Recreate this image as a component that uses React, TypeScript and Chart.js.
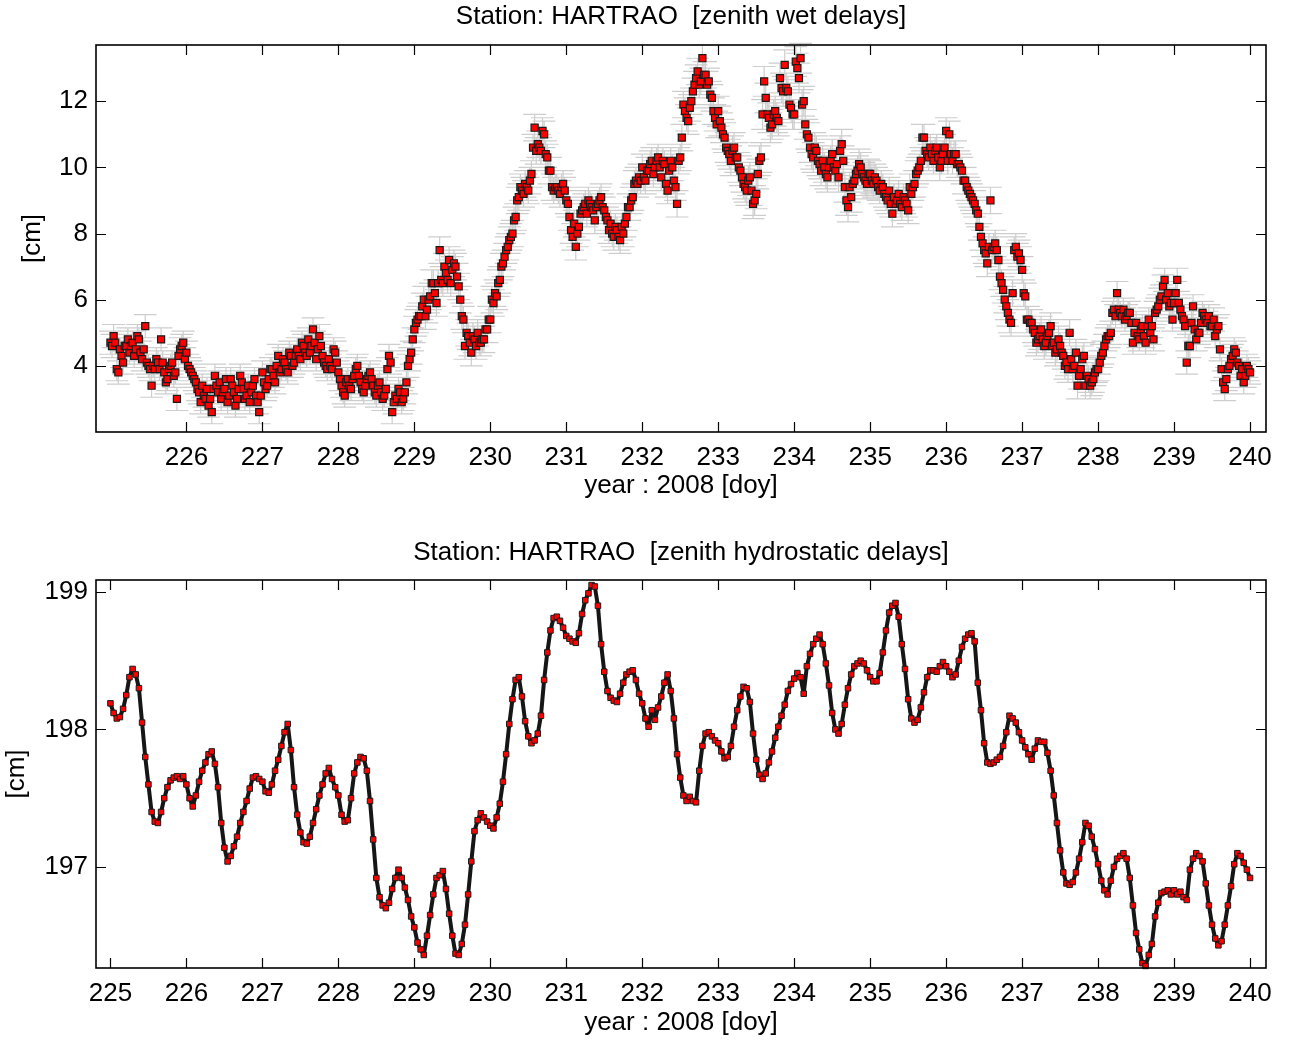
import { useEffect, useRef } from 'react';
import { Chart, registerables } from 'chart.js';

Chart.register(...registerables);

// Day-of-year 2008 at the first sample
const START_DAY = 225;
// Wet delays every 30 minutes, hydrostatic delays every hour
const WET_STEP_DAYS = 1 / 48;
const HYDRO_STEP_DAYS = 1 / 24;

// Zenith wet delay estimates [cm]
const wetDelay = [
  4.7, 4.6, 4.9, 4.7, 3.9, 3.8, 4.5, 4.3, 4.1, 4.6, 4.6, 4.8, 4.4, 4.6, 4.7, 4.3, 4.5, 4.9, 4.8, 4.4, 4.2, 4.5, 5.2, 4.1,
  4.0, 3.9, 3.4, 4.0, 3.9, 4.2, 4.1, 3.9, 4.8, 4.1, 3.8, 3.5, 3.6, 3.9, 4.0, 4.1, 3.7, 3.8, 3.0, 4.3, 4.5, 4.6, 4.7, 4.2,
  4.4, 4.0, 3.9, 3.8, 3.7, 3.6, 3.5, 3.3, 3.2, 2.9, 3.4, 3.1, 3.0, 3.3, 2.8, 3.0, 2.6, 3.3, 3.7, 3.4, 3.2, 3.5, 3.0, 3.2,
  3.3, 3.6, 2.9, 3.1, 3.6, 3.4, 3.2, 2.8, 3.0, 3.3, 3.7, 3.5, 3.3, 3.0, 3.1, 3.4, 2.9, 3.2, 3.4, 3.6, 3.1, 2.9, 2.6, 3.1,
  3.8, 3.5, 3.3, 3.4, 3.6, 3.9, 3.9, 3.7, 3.5, 4.0, 4.3, 3.8, 3.9, 4.2, 4.1, 3.9, 3.8, 4.4, 4.3, 4.0, 4.1, 4.3, 4.5, 4.3,
  4.2, 4.7, 4.6, 4.4, 4.3, 4.8, 4.4, 4.6, 5.1, 4.7, 4.2, 4.5, 4.9, 4.6, 4.3, 4.1, 4.0, 3.9, 4.2, 4.0, 3.9, 4.5, 4.4, 4.1,
  3.8, 3.6, 3.4, 3.2, 3.1, 3.5, 3.6, 3.4, 3.3, 3.6, 3.7, 3.9, 4.0, 3.7, 3.5, 3.3, 3.2, 3.4, 3.6, 3.7, 3.8, 3.6, 3.4, 3.2,
  3.1, 3.4, 3.5, 3.2, 3.0, 3.1, 3.3, 3.9, 4.3, 4.1, 2.6, 2.9, 3.1, 3.0, 3.3, 3.2, 2.9, 3.0, 3.2, 3.5, 4.0, 4.2, 4.4, 4.8,
  5.1, 5.3, 5.4, 5.5, 5.5, 5.8, 6.0, 5.5, 5.7, 6.0, 6.1, 6.5, 6.5, 6.2, 5.9, 6.5, 7.5, 6.6, 6.5, 7.0, 6.8, 6.6, 7.2, 6.5,
  6.9, 7.1, 7.0, 6.7, 6.4, 6.0, 5.5, 5.4, 4.6, 5.0, 4.9, 4.7, 4.4, 4.9, 4.8, 4.6, 5.0, 4.7, 4.7, 4.8, 4.8, 5.1, 5.1, 5.4,
  5.4, 6.0, 5.9, 6.2, 6.1, 6.5, 6.6, 7.0, 7.1, 7.3, 7.5, 7.6, 7.8, 7.9, 8.0, 8.4, 8.5, 9.0, 9.1, 9.4, 9.3, 9.2, 9.5, 9.4,
  9.3, 9.6, 9.8, 10.6, 11.2, 10.5, 10.7, 10.6, 10.5, 11.1, 11.0, 10.4, 10.3, 9.9, 9.9, 9.4, 9.3, 9.4, 9.4, 9.3, 9.2, 9.4, 9.5, 9.3,
  9.0, 8.9, 8.5, 8.1, 7.9, 8.3, 7.6, 8.0, 8.2, 8.6, 8.7, 8.8, 8.9, 8.6, 9.0, 8.9, 8.8, 8.7, 8.4, 8.8, 8.9, 9.0, 9.1, 8.8,
  8.7, 8.5, 8.4, 8.1, 8.3, 8.0, 7.9, 8.2, 8.1, 7.9, 7.8, 8.2, 8.0, 8.3, 8.5, 8.8, 8.8, 9.0, 9.1, 9.5, 9.6, 9.5, 9.7, 9.6,
  10.0, 9.7, 9.6, 9.9, 9.9, 10.1, 10.2, 9.8, 10.0, 10.2, 10.3, 10.0, 9.7, 10.2, 10.1, 9.5, 9.3, 9.9, 10.2, 10.0, 9.6, 9.4, 8.9, 10.2,
  10.3, 10.9, 11.9, 11.7, 11.5, 11.4, 11.8, 12.0, 12.3, 12.5, 12.7, 12.9, 12.5, 12.6, 13.3, 12.8, 12.8, 12.5, 12.6, 12.2, 12.1, 11.7, 11.5, 11.3,
  11.7, 11.4, 11.2, 11.0, 10.9, 10.6, 10.5, 10.4, 10.2, 10.5, 10.6, 10.3, 10.3, 10.0, 9.9, 9.7, 9.5, 9.4, 9.3, 9.6, 9.7, 9.3, 8.9, 9.0,
  9.2, 9.8, 10.2, 10.3, 11.6, 12.6, 12.1, 11.6, 11.5, 11.2, 11.3, 11.6, 11.7, 11.5, 11.4, 12.7, 12.4, 12.3, 13.1, 12.4, 12.3, 11.9, 11.8, 11.6,
  11.6, 13.2, 13.0, 12.7, 13.3, 11.9, 12.0, 11.3, 11.0, 10.9, 10.6, 10.4, 10.3, 10.6, 10.5, 10.2, 10.1, 9.9, 10.2, 10.0, 9.8, 9.7, 10.0, 10.2,
  10.4, 10.0, 9.9, 10.1, 9.7, 10.5, 10.7, 10.2, 9.4, 9.0, 8.8, 9.4, 9.1, 9.5, 9.6, 9.8, 9.9, 10.1, 10.0, 9.8, 9.7, 9.6, 9.5, 9.8,
  9.8, 9.6, 9.5, 9.7, 9.6, 9.4, 9.3, 9.5, 9.4, 9.2, 9.1, 9.0, 9.3, 8.9, 8.6, 9.1, 8.9, 9.0, 9.2, 8.9, 8.8, 9.1, 9.0, 8.9,
  8.7, 9.4, 9.2, 9.4, 9.5, 9.8, 9.9, 10.0, 10.2, 10.9, 10.9, 10.5, 10.4, 10.3, 10.6, 10.4, 10.2, 10.5, 10.6, 10.3, 10.0, 10.2, 10.4, 10.6,
  11.1, 10.2, 11.0, 10.4, 10.2, 10.4, 10.4, 10.1, 10.1, 10.0, 9.9, 9.6, 9.6, 9.4, 9.3, 9.2, 9.1, 9.0, 8.9, 8.7, 8.6, 8.2, 7.9, 7.7,
  7.5, 7.4, 7.1, 7.6, 9.0, 7.5, 7.6, 7.7, 7.5, 7.2, 6.7, 6.5, 6.3, 6.0, 5.8, 5.6, 5.4, 5.3, 6.2, 7.5, 7.6, 7.3, 7.4, 7.2,
  6.9, 6.2, 6.1, 5.4, 5.4, 5.3, 5.3, 5.1, 5.0, 4.7, 4.8, 4.9, 5.1, 4.8, 4.6, 4.7, 4.9, 5.0, 5.2, 4.6, 4.7, 4.4, 4.5, 4.8,
  4.6, 4.4, 4.3, 4.0, 4.1, 3.9, 5.0, 4.2, 3.9, 4.0, 4.4, 3.4, 3.7, 3.9, 4.2, 4.3, 3.4, 3.7, 3.6, 3.4, 3.5, 3.6, 3.8, 3.9,
  3.9, 4.1, 4.3, 4.4, 4.6, 4.8, 4.9, 4.9, 5.0, 5.6, 5.7, 5.5, 6.2, 5.7, 5.6, 5.5, 5.7, 5.4, 5.5, 5.6, 5.6, 5.3, 4.7, 5.0,
  5.3, 4.9, 4.8, 5.1, 5.2, 4.9, 4.7, 5.2, 5.4, 5.0, 5.2, 4.8, 5.6, 5.7, 5.8, 6.0, 6.1, 6.4, 6.6, 6.0, 6.2, 5.8, 5.9, 5.4,
  5.9, 6.2, 6.6, 5.9, 5.7, 5.5, 5.4, 5.2, 4.1, 4.6, 4.6, 5.3, 5.8, 5.1, 4.8, 5.0, 5.0, 5.3, 5.6, 5.5, 5.4, 5.3, 5.5, 5.2,
  5.2, 5.4, 4.9, 5.1, 5.2, 4.5, 3.9, 3.5, 3.3, 3.6, 3.9, 4.0, 4.2, 4.3, 4.5, 4.4, 4.1, 4.0, 3.7, 3.9, 3.5, 3.7, 4.0, 3.9,
  3.8,
];

// Formal error of the wet delay, one value per day (DOY 225 ... 240) [cm]
const wetSigmaByDay = [0.35, 0.35, 0.35, 0.35, 0.4, 0.4, 0.4, 0.4, 0.45, 0.45, 0.4, 0.4, 0.4, 0.35, 0.35, 0.35];
// Half width of the error-bar caps [days]
const CAP_HALF_DAYS = 0.15;

// Zenith hydrostatic delay [cm]
const hydroDelay = [
  198.19, 198.12, 198.08, 198.09, 198.15, 198.25, 198.38, 198.44, 198.40, 198.30, 198.05, 197.80, 197.60, 197.40, 197.33, 197.32, 197.40, 197.50, 197.58, 197.63, 197.65, 197.66, 197.64, 197.66,
  197.60, 197.50, 197.44, 197.52, 197.62, 197.70, 197.76, 197.82, 197.84, 197.75, 197.58, 197.32, 197.14, 197.04, 197.08, 197.15, 197.22, 197.32, 197.40, 197.48, 197.57, 197.65, 197.66, 197.64,
  197.62, 197.55, 197.54, 197.60, 197.70, 197.78, 197.88, 197.98, 198.04, 197.85, 197.58, 197.38, 197.25, 197.18, 197.17, 197.22, 197.32, 197.42, 197.52, 197.60, 197.68, 197.72, 197.64, 197.58,
  197.52, 197.38, 197.33, 197.34, 197.50, 197.68, 197.76, 197.80, 197.79, 197.70, 197.48, 197.20, 196.92, 196.78, 196.72, 196.70, 196.74, 196.84, 196.92, 196.98, 196.92, 196.85, 196.76, 196.64,
  196.56, 196.45, 196.40, 196.36, 196.50, 196.65, 196.80, 196.92, 196.94, 196.97, 196.84, 196.66, 196.50, 196.37, 196.36, 196.44, 196.58, 196.80, 197.04, 197.26, 197.34, 197.39, 197.36, 197.33,
  197.30, 197.28, 197.36, 197.46, 197.62, 197.82, 198.04, 198.22, 198.36, 198.38, 198.24, 198.06, 197.95, 197.90, 197.92, 197.97, 198.10, 198.36, 198.56, 198.72, 198.81, 198.82, 198.79, 198.74,
  198.68, 198.66, 198.64, 198.63, 198.70, 198.84, 198.94, 198.99, 199.05, 199.04, 198.90, 198.62, 198.42, 198.28, 198.23, 198.21, 198.20, 198.26, 198.34, 198.40, 198.42, 198.43, 198.36, 198.26,
  198.19, 198.08, 198.02, 198.14, 198.07, 198.16, 198.24, 198.34, 198.40, 198.28, 198.08, 197.82, 197.65, 197.52, 197.48, 197.51, 197.48, 197.47, 197.70, 197.88, 197.97, 197.98, 197.95, 197.92,
  197.90, 197.84, 197.79, 197.80, 197.88, 198.02, 198.14, 198.24, 198.31, 198.30, 198.20, 197.97, 197.78, 197.67, 197.64, 197.68, 197.76, 197.84, 197.94, 198.02, 198.10, 198.18, 198.28, 198.33,
  198.37, 198.41, 198.38, 198.26, 198.46, 198.55, 198.62, 198.66, 198.69, 198.62, 198.48, 198.32, 198.12, 198.00, 197.97, 198.04, 198.18, 198.30, 198.40, 198.46, 198.48, 198.50, 198.48, 198.43,
  198.38, 198.35, 198.35, 198.41, 198.56, 198.72, 198.85, 198.90, 198.92, 198.82, 198.62, 198.44, 198.22, 198.08, 198.05, 198.07, 198.16, 198.27, 198.38, 198.43, 198.43, 198.42, 198.46, 198.49,
  198.46, 198.42, 198.38, 198.40, 198.50, 198.60, 198.66, 198.69, 198.70, 198.64, 198.34, 198.14, 197.90, 197.76, 197.75, 197.76, 197.78, 197.80, 197.88, 197.98, 198.10, 198.08, 198.05, 197.98,
  197.92, 197.87, 197.82, 197.78, 197.86, 197.92, 197.91, 197.91, 197.83, 197.70, 197.52, 197.32, 197.12, 196.96, 196.88, 196.87, 196.89, 196.96, 197.06, 197.18, 197.32, 197.30, 197.22, 197.13,
  197.02, 196.90, 196.83, 196.80, 196.90, 197.00, 197.06, 197.08, 197.10, 197.06, 196.92, 196.72, 196.52, 196.40, 196.30, 196.28, 196.36, 196.44, 196.64, 196.74, 196.81, 196.82, 196.83, 196.80,
  196.83, 196.80, 196.82, 196.78, 196.76, 196.98, 197.06, 197.10, 197.08, 197.04, 196.88, 196.72, 196.58, 196.48, 196.43, 196.46, 196.58, 196.72, 196.86, 197.02, 197.10, 197.08, 197.03, 196.98,
  196.92,
];

// Tick positions
const wetXTicks = [226, 227, 228, 229, 230, 231, 232, 233, 234, 235, 236, 237, 238, 239, 240];
const wetYTicks = [4, 6, 8, 10, 12];
const hydroXTicks = [225, 226, 227, 228, 229, 230, 231, 232, 233, 234, 235, 236, 237, 238, 239, 240];
const hydroYTicks = [197, 198, 199];

const FONT = "'Liberation Sans', Arial, Helvetica, sans-serif";
const FONT_SIZE = 26;
const W = 1300;
const H = 522;

const toPoints = (vals: number[], step: number) => vals.map((v, i) => ({ x: START_DAY + i * step, y: v }));

// Panel heading, centred over the plot area
const headingPlugin = {
  id: 'panelHeading',
  afterDraw(chart: any, _args: any, opts: any) {
    if (!opts || !opts.text) return;
    const { ctx, chartArea } = chart;
    ctx.save();
    ctx.fillStyle = '#000';
    ctx.font = `${FONT_SIZE}px ${FONT}`;
    ctx.textAlign = 'center';
    ctx.textBaseline = 'middle';
    ctx.fillText(opts.text, (chartArea.left + chartArea.right) / 2, chartArea.top - opts.gap);
    ctx.restore();
  },
};

// Box around the plot area with inward tick marks on all four sides
const framePlugin = {
  id: 'matlabFrame',
  afterDraw(chart: any) {
    const { ctx, chartArea } = chart;
    const { left, right, top, bottom } = chartArea;
    const xs = chart.scales.x;
    const ys = chart.scales.y;
    const len = 10;
    ctx.save();
    ctx.strokeStyle = '#000';
    ctx.lineWidth = 1.2;
    ctx.beginPath();
    xs.ticks.forEach((t: any) => {
      const px = Math.round(xs.getPixelForValue(t.value)) + 0.5;
      ctx.moveTo(px, bottom);
      ctx.lineTo(px, bottom - len);
      ctx.moveTo(px, top);
      ctx.lineTo(px, top + len);
    });
    ys.ticks.forEach((t: any) => {
      const py = Math.round(ys.getPixelForValue(t.value)) + 0.5;
      ctx.moveTo(left, py);
      ctx.lineTo(left + len, py);
      ctx.moveTo(right, py);
      ctx.lineTo(right - len, py);
    });
    ctx.stroke();
    ctx.lineWidth = 1.6;
    ctx.strokeRect(left, top, right - left, bottom - top);
    ctx.restore();
  },
};

// Grey error bars (with caps) drawn underneath the markers
const errorBarPlugin = {
  id: 'wetErrorBars',
  beforeDatasetsDraw(chart: any) {
    const { ctx } = chart;
    const xs = chart.scales.x;
    const ys = chart.scales.y;
    ctx.save();
    ctx.strokeStyle = '#cdcdcd';
    ctx.lineWidth = 1.2;
    ctx.beginPath();
    wetDelay.forEach((v, i) => {
      const t = START_DAY + i * WET_STEP_DAYS;
      const d = Math.min(wetSigmaByDay.length - 1, Math.floor(t - START_DAY));
      const s = wetSigmaByDay[d];
      const px = xs.getPixelForValue(t);
      const pyHi = ys.getPixelForValue(v + s);
      const pyLo = ys.getPixelForValue(v - s);
      const c0 = xs.getPixelForValue(t - CAP_HALF_DAYS);
      const c1 = xs.getPixelForValue(t + CAP_HALF_DAYS);
      ctx.moveTo(px, pyHi);
      ctx.lineTo(px, pyLo);
      ctx.moveTo(c0, pyHi);
      ctx.lineTo(c1, pyHi);
      ctx.moveTo(c0, pyLo);
      ctx.lineTo(c1, pyLo);
    });
    ctx.stroke();
    ctx.restore();
  },
};

function axisOptions(
  xTicks: number[],
  yTicks: number[],
  yMin: number,
  yMax: number,
  xHeight: number,
  xTitlePadBottom: number,
  yTitlePadTop: number,
) {
  const tickFont = { family: FONT, size: FONT_SIZE, weight: 'normal' as const };
  return {
    x: {
      type: 'linear' as const,
      min: 224.81,
      max: 240.21,
      afterBuildTicks: (s: any) => {
        s.ticks = xTicks.map((v) => ({ value: v }));
      },
      afterFit: (s: any) => {
        s.height = xHeight;
      },
      grid: { display: false, drawTicks: false },
      border: { display: false },
      ticks: { color: '#000', font: tickFont, padding: 10, maxRotation: 0, autoSkip: false, callback: (v: any) => String(v) },
      title: { display: true, text: 'year : 2008 [doy]', color: '#000', font: tickFont, padding: { top: 0, bottom: xTitlePadBottom } },
    },
    y: {
      type: 'linear' as const,
      min: yMin,
      max: yMax,
      afterBuildTicks: (s: any) => {
        s.ticks = yTicks.map((v) => ({ value: v }));
      },
      afterFit: (s: any) => {
        s.width = 96;
      },
      grid: { display: false, drawTicks: false },
      border: { display: false },
      ticks: { color: '#000', font: tickFont, padding: 8, autoSkip: false, callback: (v: any) => String(v) },
      title: { display: true, text: '[cm]', color: '#000', font: tickFont, padding: { top: yTitlePadTop, bottom: 0 } },
    },
  };
}

export default function App() {
  const wetRef = useRef<HTMLCanvasElement>(null);
  const hydroRef = useRef<HTMLCanvasElement>(null);

  useEffect(() => {
    if (!wetRef.current || !hydroRef.current) return;

    const wetChart = new Chart(wetRef.current, {
      type: 'scatter',
      data: {
        datasets: [
          {
            data: toPoints(wetDelay, WET_STEP_DAYS),
            pointStyle: 'rect',
            pointRadius: 5,
            pointBackgroundColor: '#ff0000',
            pointBorderColor: '#1a1a1a',
            pointBorderWidth: 1.2,
            showLine: false,
            clip: false,
          },
        ],
      },
      options: {
        animation: false,
        responsive: false,
        devicePixelRatio: 1,
        layout: { padding: { left: 0, right: 34, top: 45, bottom: 0 } },
        plugins: {
          legend: { display: false },
          tooltip: { enabled: false },
          title: { display: false },
          panelHeading: { text: 'Station: HARTRAO  [zenith wet delays]', gap: 28 },
        },
        scales: axisOptions(wetXTicks, wetYTicks, 2.0, 13.7, 90, 20.4, 17.4),
      } as any,
      plugins: [errorBarPlugin, framePlugin, headingPlugin],
    });

    const hydroChart = new Chart(hydroRef.current, {
      type: 'scatter',
      data: {
        datasets: [
          {
            data: toPoints(hydroDelay, HYDRO_STEP_DAYS),
            showLine: true,
            borderColor: '#161616',
            borderWidth: 4,
            borderJoinStyle: 'round',
            borderCapStyle: 'round',
            tension: 0,
            pointStyle: 'rect',
            pointRadius: 3.9,
            pointBackgroundColor: '#ff0000',
            pointBorderColor: '#1a1a1a',
            pointBorderWidth: 1,
            clip: false,
          },
        ],
      },
      options: {
        animation: false,
        responsive: false,
        devicePixelRatio: 1,
        layout: { padding: { left: 0, right: 34, top: 58, bottom: 0 } },
        plugins: {
          legend: { display: false },
          tooltip: { enabled: false },
          title: { display: false },
          panelHeading: { text: 'Station: HARTRAO  [zenith hydrostatic delays]', gap: 27 },
        },
        scales: axisOptions(hydroXTicks, hydroYTicks, 196.265, 199.087, 76, 5.4, 1.4),
      } as any,
      plugins: [framePlugin, headingPlugin],
    });

    return () => {
      wetChart.destroy();
      hydroChart.destroy();
    };
  }, []);

  return (
    <div style={{ position: 'fixed', left: 0, top: 0, width: W, height: 2 * H, background: '#fff' }}>
      <canvas ref={wetRef} width={W} height={H} style={{ display: 'block', width: W, height: H }} />
      <canvas ref={hydroRef} width={W} height={H} style={{ display: 'block', width: W, height: H }} />
    </div>
  );
}
